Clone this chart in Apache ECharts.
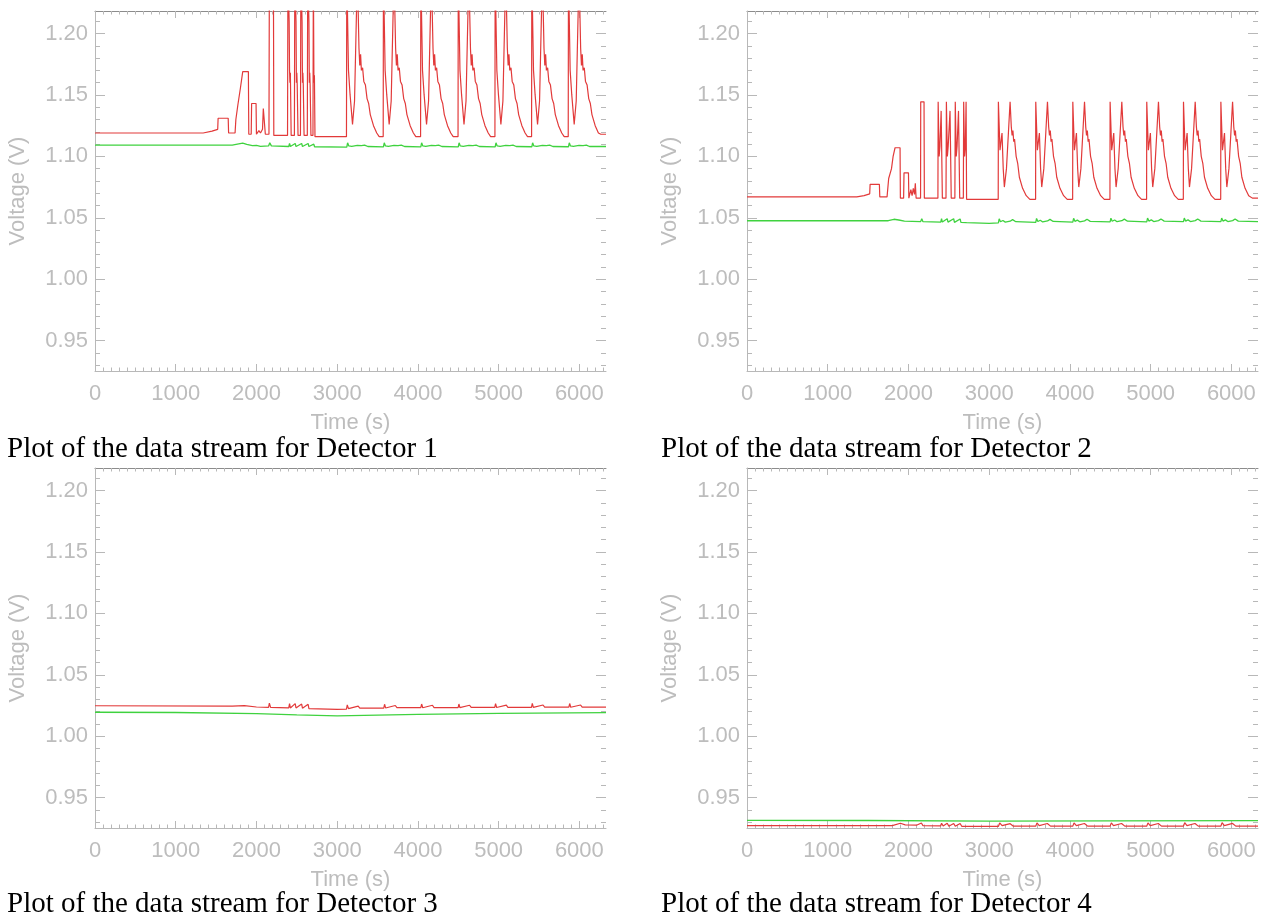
<!DOCTYPE html>
<html><head><meta charset="utf-8">
<script src="https://cdn.jsdelivr.net/npm/echarts@6/dist/echarts.min.js"></script>
<style>html,body{margin:0;padding:0;background:#fff}#c{width:1267px;height:919px}</style>
</head><body><div id="c"></div>
<script>
// ---------- tick labels ----------
const xMajor = [0, 1000, 2000, 3000, 4000, 5000, 6000];
const yMajor = [0.95, 1.00, 1.05, 1.10, 1.15, 1.20];
const X_MIN = 0, X_MAX = 6330;
const Y_MIN = 0.9253, Y_MAX = 1.2183;
const captions = [
  'Plot of the data stream for Detector 1',
  'Plot of the data stream for Detector 2',
  'Plot of the data stream for Detector 3',
  'Plot of the data stream for Detector 4'
];

// ---------- Detector 1 ----------
const d1Red = [
  [0,1.119],[1340,1.119],[1450,1.1205],[1520,1.122],[1525,1.131],[1650,1.131],[1655,1.119],[1735,1.119],
  [1745,1.13],[1770,1.142],[1800,1.155],[1830,1.169],[1900,1.169],[1905,1.118],[1935,1.118],[1940,1.143],
  [1995,1.143],[2000,1.118],[2030,1.121],[2050,1.119],[2075,1.122],[2085,1.139],[2105,1.139],[2110,1.118],
  [2155,1.118],[2160,1.25],[2210,1.25],[2215,1.117],[2385,1.117],[2390,1.25],[2405,1.21],[2410,1.17],[2415,1.16],[2420,1.168],
  [2430,1.117],[2470,1.117],[2475,1.25],[2490,1.21],[2495,1.16],[2500,1.168],[2505,1.158],[2515,1.117],[2545,1.117],[2550,1.25],
  [2565,1.21],[2570,1.16],[2575,1.168],[2580,1.158],[2590,1.117],[2630,1.117],[2635,1.25],[2650,1.21],[2655,1.16],[2660,1.168],[2665,1.158],[2675,1.117],
  [2700,1.117],[2705,1.25],[2712,1.16],[2718,1.166],[2725,1.116],[3115,1.116],
  [3119,1.25],[3140,1.17],[3160,1.15],[3190,1.126],[3215,1.145],[3250,1.25],[3270,1.188],[3280,1.174],[3290,1.183],[3300,1.17],[3315,1.172],[3330,1.161],[3350,1.158],[3370,1.147],[3390,1.143],[3410,1.134],[3450,1.125],[3490,1.119],[3520,1.116],[3570,1.116],
  [3573,1.25],[3594,1.17],[3614,1.15],[3644,1.126],[3669,1.145],[3704,1.25],[3724,1.188],[3734,1.174],[3744,1.183],[3754,1.17],[3769,1.172],[3784,1.161],[3804,1.158],[3824,1.147],[3844,1.143],[3864,1.134],[3904,1.125],[3944,1.119],[3974,1.116],[4033,1.116],
  [4036,1.25],[4057,1.17],[4077,1.15],[4107,1.126],[4132,1.145],[4167,1.25],[4187,1.188],[4197,1.174],[4207,1.183],[4217,1.17],[4232,1.172],[4247,1.161],[4267,1.158],[4287,1.147],[4307,1.143],[4327,1.134],[4367,1.125],[4407,1.119],[4437,1.116],[4497,1.116],
  [4500,1.25],[4521,1.17],[4541,1.15],[4571,1.126],[4596,1.145],[4631,1.25],[4651,1.188],[4661,1.174],[4671,1.183],[4681,1.17],[4696,1.172],[4711,1.161],[4731,1.158],[4751,1.147],[4771,1.143],[4791,1.134],[4831,1.125],[4871,1.119],[4901,1.116],[4954,1.116],
  [4957,1.25],[4978,1.17],[4998,1.15],[5028,1.126],[5053,1.145],[5088,1.25],[5108,1.188],[5118,1.174],[5128,1.183],[5138,1.17],[5153,1.172],[5168,1.161],[5188,1.158],[5208,1.147],[5228,1.143],[5248,1.134],[5288,1.125],[5328,1.119],[5358,1.116],[5408,1.116],
  [5411,1.25],[5432,1.17],[5452,1.15],[5482,1.126],[5507,1.145],[5542,1.25],[5562,1.188],[5572,1.174],[5582,1.183],[5592,1.17],[5607,1.172],[5622,1.161],[5642,1.158],[5662,1.147],[5682,1.143],[5702,1.134],[5742,1.125],[5782,1.119],[5812,1.116],[5862,1.116],
  [5865,1.25],[5886,1.17],[5906,1.15],[5936,1.126],[5961,1.145],[5996,1.25],[6016,1.188],[6026,1.174],[6036,1.183],[6046,1.17],[6061,1.172],[6076,1.161],[6096,1.158],[6116,1.147],[6136,1.143],[6156,1.134],[6196,1.125],[6236,1.119],[6266,1.118],[6330,1.118]
];
const d1Green = [
  [0,1.1092],[1700,1.1092],[1780,1.1102],[1830,1.1108],[1880,1.1098],[1950,1.1088],[2000,1.109],[2050,1.1082],
  [2150,1.1085],[2165,1.111],[2185,1.1085],[2400,1.108],[2410,1.1105],[2420,1.108],[2480,1.1105],[2490,1.108],
  [2560,1.1105],[2570,1.108],[2640,1.1105],[2650,1.108],[2710,1.110],[2720,1.1078],[3119,1.1075],
  [3129,1.111],[3144,1.1085],[3164,1.1095],[3180,1.1082],[3250,1.109],[3270,1.1103],[3300,1.1088],[3340,1.1092],[3380,1.108],[3573,1.1077],
  [3583,1.111],[3598,1.1085],[3618,1.1095],[3634,1.1082],[3704,1.109],[3724,1.1103],[3754,1.1088],[3794,1.1092],[3834,1.108],[4036,1.1077],
  [4046,1.111],[4061,1.1085],[4081,1.1095],[4097,1.1082],[4167,1.109],[4187,1.1103],[4217,1.1088],[4257,1.1092],[4297,1.108],[4500,1.1077],
  [4510,1.111],[4525,1.1085],[4545,1.1095],[4561,1.1082],[4631,1.109],[4651,1.1103],[4681,1.1088],[4721,1.1092],[4761,1.108],[4957,1.1077],
  [4967,1.111],[4982,1.1085],[5002,1.1095],[5018,1.1082],[5088,1.109],[5108,1.1103],[5138,1.1088],[5178,1.1092],[5218,1.108],[5411,1.1078],
  [5421,1.111],[5436,1.1085],[5456,1.1095],[5472,1.1082],[5542,1.109],[5562,1.1103],[5592,1.1088],[5632,1.1092],[5672,1.108],[5865,1.1078],
  [5875,1.111],[5890,1.1085],[5910,1.1095],[5926,1.1082],[5996,1.109],[6016,1.1103],[6046,1.1088],[6086,1.1092],[6126,1.108],[6330,1.108]
];

// ---------- Detector 2 ----------
const d2Red = [
  [0,1.067],[1360,1.067],[1450,1.068],[1520,1.0695],[1525,1.0772],[1640,1.0772],[1645,1.067],[1735,1.067],
  [1755,1.082],[1790,1.09],[1810,1.100],[1834,1.107],[1896,1.107],[1900,1.066],[1940,1.066],[1945,1.0866],
  [2000,1.0866],[2005,1.066],[2030,1.073],[2045,1.068],[2060,1.074],[2075,1.069],[2085,1.078],[2095,1.066],
  [2150,1.066],[2152,1.1444],[2193,1.1444],[2197,1.066],[2365,1.066],[2368,1.1444],[2380,1.10],[2390,1.108],[2405,1.137],
  [2420,1.066],[2465,1.066],[2470,1.1444],[2482,1.10],[2492,1.108],[2515,1.137],[2530,1.066],[2575,1.066],[2580,1.1444],
  [2592,1.10],[2602,1.108],[2620,1.137],[2635,1.066],[2680,1.066],[2684,1.1444],[2695,1.10],[2705,1.108],[2714,1.1444],[2720,1.065],[3112,1.065],
  [3114,1.1444],[3134,1.105],[3159,1.119],[3174,1.09],[3188,1.075],[3214,1.09],[3239,1.12],[3259,1.1444],[3274,1.124],[3284,1.117],[3294,1.121],[3304,1.112],[3314,1.114],[3334,1.100],[3354,1.094],[3374,1.083],[3414,1.074],[3459,1.068],[3504,1.065],[3575,1.065],
  [3577,1.1444],[3597,1.105],[3622,1.119],[3637,1.09],[3651,1.075],[3677,1.09],[3702,1.12],[3722,1.1444],[3737,1.124],[3747,1.117],[3757,1.121],[3767,1.112],[3777,1.114],[3797,1.100],[3817,1.094],[3837,1.083],[3877,1.074],[3922,1.068],[3967,1.065],[4034,1.065],
  [4036,1.1444],[4056,1.105],[4081,1.119],[4096,1.09],[4110,1.075],[4136,1.09],[4161,1.12],[4181,1.1444],[4196,1.124],[4206,1.117],[4216,1.121],[4226,1.112],[4236,1.114],[4256,1.100],[4276,1.094],[4296,1.083],[4336,1.074],[4381,1.068],[4426,1.065],[4496,1.065],
  [4498,1.1444],[4518,1.105],[4543,1.119],[4558,1.09],[4572,1.075],[4598,1.09],[4623,1.12],[4643,1.1444],[4658,1.124],[4668,1.117],[4678,1.121],[4688,1.112],[4698,1.114],[4718,1.100],[4738,1.094],[4758,1.083],[4798,1.074],[4843,1.068],[4888,1.065],[4950,1.065],
  [4952,1.1444],[4972,1.105],[4997,1.119],[5012,1.09],[5026,1.075],[5052,1.09],[5077,1.12],[5097,1.1444],[5112,1.124],[5122,1.117],[5132,1.121],[5142,1.112],[5152,1.114],[5172,1.100],[5192,1.094],[5212,1.083],[5252,1.074],[5297,1.068],[5342,1.065],[5405,1.065],
  [5407,1.1444],[5427,1.105],[5452,1.119],[5467,1.09],[5481,1.075],[5507,1.09],[5532,1.12],[5552,1.1444],[5567,1.124],[5577,1.117],[5587,1.121],[5597,1.112],[5607,1.114],[5627,1.100],[5647,1.094],[5667,1.083],[5707,1.074],[5752,1.068],[5797,1.065],[5868,1.065],
  [5870,1.1444],[5890,1.105],[5915,1.119],[5930,1.09],[5944,1.075],[5970,1.09],[5995,1.12],[6015,1.1444],[6030,1.124],[6040,1.117],[6050,1.121],[6060,1.112],[6070,1.114],[6090,1.100],[6110,1.094],[6130,1.083],[6170,1.074],[6215,1.068],[6260,1.066],[6330,1.066]
];
const d2Green = [
  [0,1.0476],[1750,1.0476],[1820,1.0488],[1880,1.0482],[1950,1.0472],[2050,1.047],[2150,1.0468],[2165,1.0492],[2180,1.0468],
  [2400,1.0465],[2410,1.0492],[2420,1.0465],[2480,1.0492],[2490,1.0465],[2560,1.0492],[2570,1.0463],[2640,1.049],[2650,1.0462],[2720,1.046],
  [3000,1.0455],[3114,1.0458],[3124,1.0492],[3140,1.0468],[3170,1.0478],[3200,1.0465],[3260,1.0472],[3290,1.0485],[3330,1.0468],[3577,1.0462],
  [3587,1.0495],[3603,1.047],[3633,1.048],[3663,1.0466],[3723,1.0474],[3753,1.0487],[3793,1.047],[4036,1.0464],
  [4046,1.0496],[4062,1.0471],[4092,1.0481],[4122,1.0467],[4182,1.0475],[4212,1.0488],[4252,1.0471],[4498,1.0466],
  [4508,1.0497],[4524,1.0472],[4554,1.0482],[4584,1.0468],[4644,1.0476],[4674,1.0489],[4714,1.0472],[4952,1.0467],
  [4962,1.0498],[4978,1.0473],[5008,1.0483],[5038,1.0469],[5098,1.0477],[5128,1.049],[5168,1.0473],[5407,1.0468],
  [5417,1.0498],[5433,1.0473],[5463,1.0483],[5493,1.0469],[5553,1.0477],[5583,1.049],[5623,1.0473],[5870,1.0468],
  [5880,1.0498],[5896,1.0473],[5926,1.0483],[5956,1.0469],[6016,1.0477],[6046,1.049],[6086,1.0473],[6330,1.0468]
];

// ---------- Detector 3 ----------
const d3Red = [
  [0,1.0248],[1700,1.0245],[1850,1.0249],[2000,1.0238],[2150,1.0235],[2160,1.027],[2175,1.0235],[2400,1.023],
  [2410,1.0265],[2420,1.023],[2480,1.0265],[2490,1.023],[2560,1.0262],[2570,1.0228],[2640,1.026],[2650,1.0225],
  [3000,1.0218],[3115,1.022],[3125,1.0255],[3140,1.0225],[3260,1.0245],[3280,1.0228],[3577,1.0228],[3587,1.026],[3600,1.023],[3720,1.025],[3740,1.0232],
  [4036,1.0232],[4046,1.0262],[4060,1.0232],[4180,1.0252],[4200,1.0233],[4498,1.0233],[4508,1.0262],[4520,1.0233],[4640,1.0252],[4660,1.0234],
  [4952,1.0234],[4962,1.0265],[4975,1.0234],[5095,1.0253],[5115,1.0235],[5407,1.0235],[5417,1.0268],[5430,1.0235],[5550,1.0254],[5570,1.0236],
  [5870,1.0236],[5880,1.0266],[5893,1.0236],[6015,1.0254],[6035,1.0236],[6330,1.0236]
];
const d3Green = [
  [0,1.0195],[1000,1.0193],[2000,1.0184],[2500,1.0174],[3000,1.0166],[3500,1.0172],[4000,1.0178],[5000,1.0186],[6330,1.0192]
];

// ---------- Detector 4 ----------
const d4Red = [
  [0,0.9272],[1800,0.9272],[1900,0.9292],[1960,0.9278],[2100,0.9276],[2160,0.9294],[2180,0.9272],[2400,0.927],
  [2410,0.9292],[2430,0.927],[2480,0.9292],[2500,0.9268],[2560,0.929],[2580,0.9268],[2640,0.929],[2660,0.9267],
  [3000,0.9266],[3115,0.9267],[3130,0.9294],[3160,0.9272],[3260,0.9288],[3300,0.9268],[3577,0.9268],[3592,0.9295],[3620,0.9272],[3720,0.929],[3760,0.9268],
  [4036,0.9268],[4051,0.9295],[4080,0.9272],[4180,0.929],[4220,0.9268],[4498,0.9268],[4513,0.9295],[4540,0.9272],[4640,0.929],[4680,0.9268],
  [4952,0.9268],[4967,0.9295],[4995,0.9272],[5095,0.929],[5135,0.9268],[5407,0.9268],[5422,0.9296],[5450,0.9272],[5550,0.929],[5590,0.9268],
  [5870,0.9268],[5885,0.9296],[5913,0.9272],[6015,0.929],[6055,0.9268],[6330,0.9268]
];
const d4Green = [
  [0,0.9315],[1500,0.9314],[3000,0.9309],[4500,0.9311],[6330,0.9313]
];

const panels = [
  {left: 95,  top: 11,  red: d1Red, green: d1Green, capLeft: 7,   capTop: 435},
  {left: 747, top: 11,  red: d2Red, green: d2Green, capLeft: 661, capTop: 435},
  {left: 95,  top: 468, red: d3Red, green: d3Green, capLeft: 7,   capTop: 890},
  {left: 747, top: 468, red: d4Red, green: d4Green, capLeft: 661, capTop: 890}
];

const xMinor = [];
for (let v = 100; v < X_MAX; v += 100) if (v % 1000) xMinor.push(v);
const yMinor = [];
for (let k = 93; k <= 121; k++) if (k % 5) yMinor.push(k / 100);

const axCol = '#b8b8b8', topCol = '#8c8c8c', lblCol = '#bdbdbd';
const lblFont = {color: lblCol, fontSize: 22, fontFamily: 'Liberation Sans'};
const grid = [], xAxis = [], yAxis = [], series = [], title = [];

panels.forEach((p, i) => {
  grid.push({left: p.left, top: p.top, width: 511, height: 360});
  const xi = xAxis.length, yi = yAxis.length;
  const xb = {type: 'value', gridIndex: i, min: X_MIN, max: X_MAX, splitLine: {show: false}};
  const yb = {type: 'value', gridIndex: i, min: Y_MIN, max: Y_MAX, splitLine: {show: false}};
  const tick = (vals, len) => ({show: true, inside: true, length: len, customValues: vals, lineStyle: {color: axCol, width: 1}});
  xAxis.push(Object.assign({}, xb, {position: 'bottom',
    axisLine: {show: true, onZero: false, lineStyle: {color: axCol}},
    axisTick: tick(xMajor, 7),
    axisLabel: Object.assign({customValues: xMajor, margin: 12, formatter: v => String(v)}, lblFont),
    name: 'Time (s)', nameLocation: 'middle', nameGap: 41, nameTextStyle: lblFont}));
  xAxis.push(Object.assign({}, xb, {position: 'bottom', axisLine: {show: false, onZero: false},
    axisTick: tick(xMinor, 3.5), axisLabel: {show: false}}));
  xAxis.push(Object.assign({}, xb, {position: 'top',
    axisLine: {show: true, onZero: false, lineStyle: {color: topCol}},
    axisTick: tick(xMajor, 7), axisLabel: {show: false}}));
  xAxis.push(Object.assign({}, xb, {position: 'top', axisLine: {show: false, onZero: false},
    axisTick: tick(xMinor, 3.5), axisLabel: {show: false}}));

  yAxis.push(Object.assign({}, yb, {position: 'left',
    axisLine: {show: true, onZero: false, lineStyle: {color: axCol}},
    axisTick: tick(yMajor, 10),
    axisLabel: Object.assign({customValues: yMajor, margin: 7, formatter: v => v.toFixed(2)}, lblFont),
    name: 'Voltage (V)', nameLocation: 'middle', nameGap: 66, nameTextStyle: lblFont}));
  yAxis.push(Object.assign({}, yb, {position: 'left', axisLine: {show: false, onZero: false},
    axisTick: tick(yMinor, 5), axisLabel: {show: false}}));
  yAxis.push(Object.assign({}, yb, {position: 'right', axisLine: {show: false, onZero: false},
    axisTick: tick(yMajor, 10), axisLabel: {show: false}}));
  yAxis.push(Object.assign({}, yb, {position: 'right', axisLine: {show: false, onZero: false},
    axisTick: tick(yMinor, 5), axisLabel: {show: false}}));

  series.push({type: 'line', xAxisIndex: xi, yAxisIndex: yi, data: p.green, showSymbol: false,
    lineStyle: {color: '#3fd23f', width: 1.3}, animation: false, clip: true});
  series.push({type: 'line', xAxisIndex: xi, yAxisIndex: yi, data: p.red, showSymbol: false,
    lineStyle: {color: '#e23a3a', width: 1.2}, animation: false, clip: true});

  title.push({text: captions[i], left: p.capLeft, top: p.capTop, padding: 0,
    textStyle: {fontFamily: 'Liberation Serif', fontSize: 29, fontWeight: 'normal', color: '#000'}});
});

const chart = echarts.init(document.getElementById('c'), null, {renderer: 'canvas'});
chart.setOption({animation: false, backgroundColor: '#fff', title, grid, xAxis, yAxis, series});
</script></body></html>
